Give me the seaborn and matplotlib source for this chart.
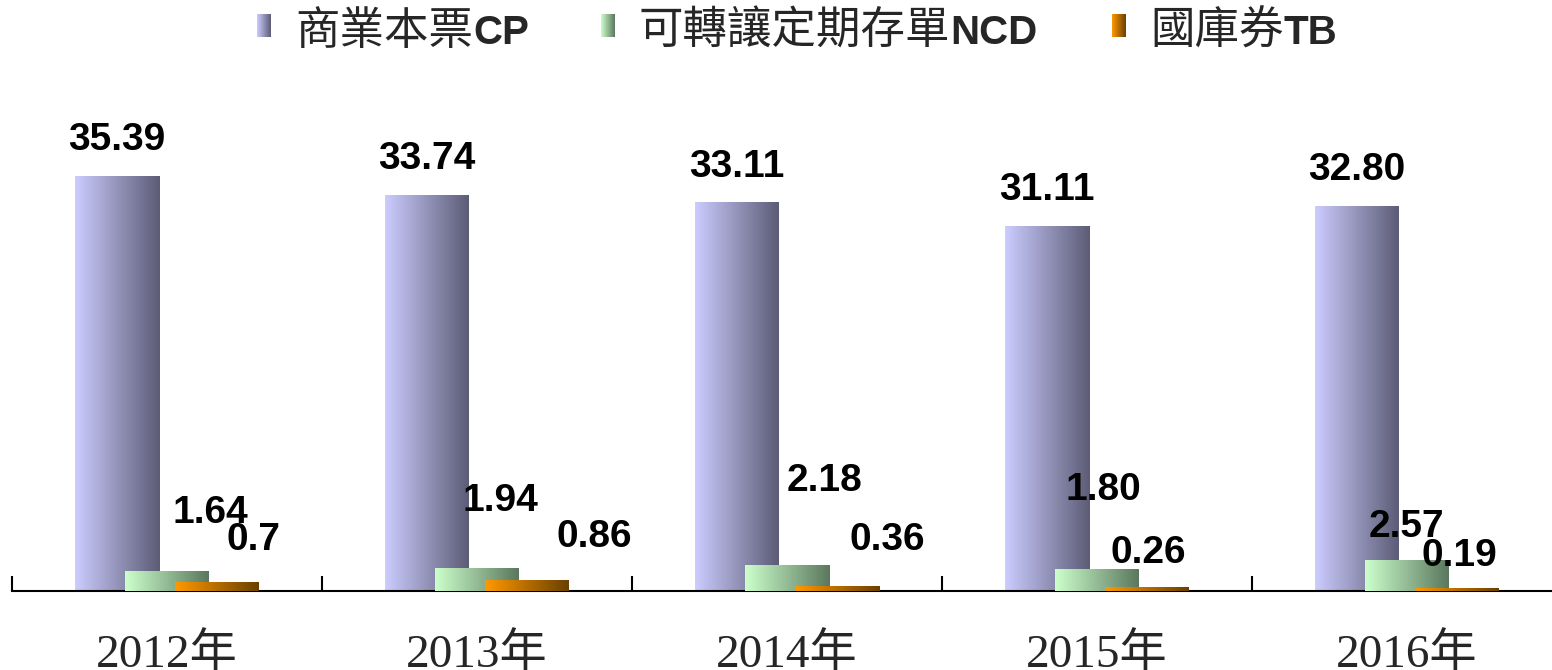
import numpy as np
import pandas as pd
import matplotlib
matplotlib.use('Agg')
import matplotlib.pyplot as plt
import matplotlib.colors as mcolors
import seaborn as sns

# dados
years = ['2012年', '2013年', '2014年', '2015年', '2016年']
series = ['商業本票CP', '可轉讓定期存單NCD', '國庫券TB']
cp = [35.39, 33.74, 33.11, 31.11, 32.80]
ncd = [1.64, 1.94, 2.18, 1.80, 2.57]
tb = [0.70, 0.86, 0.36, 0.26, 0.19]
cp_labels = ['35.39', '33.74', '33.11', '31.11', '32.80']
ncd_labels = ['1.64', '1.94', '2.18', '1.80', '2.57']
tb_labels = ['0.7', '0.86', '0.36', '0.26', '0.19']

# estilo
grad_colors = [('#ccccff', '#5c5c76'), ('#ccffcc', '#5b775d'), ('#ff9900', '#6a4000')]
# deslocamento dos rótulos em pixels (dx, dy acima do topo da barra)
cp_off = [(0, 36)] * 5
ncd_off = [(43, 59), (23, 67), (38, 84), (6, 80), (-1, 34)]
tb_off = [(36, 43), (67, 44), (50, 47), (1, 35), (2, 33)]

sns.set_style('white')
plt.rcParams['font.family'] = ['Liberation Sans', 'Noto Sans CJK TC']

df = pd.DataFrame({
    'ano': years * 3,
    'serie': np.repeat(series, len(years)),
    'valor': cp + ncd + tb,
})

W, H = 1552, 670
fig = plt.figure(figsize=(W / 100, H / 100), dpi=100)
ax = fig.add_axes([12 / W, 79 / H, 1550 / W, 469 / H])

sns.barplot(data=df, x='ano', y='valor', hue='serie', order=years, hue_order=series,
            dodge=True, width=0.484, palette=[c[0] for c in grad_colors],
            saturation=1, legend=False, ax=ax)

bar_w = 84 / 310
px2pt = 0.72


def gradient(c0, c1):
    a = np.array(mcolors.to_rgb(c0))
    b = np.array(mcolors.to_rgb(c1))
    t = np.linspace(0, 1, 256)[:, None]
    return (a + (b - a) * t)[None, :, :]


all_labels = [cp_labels, ncd_labels, tb_labels]
all_offs = [cp_off, ncd_off, tb_off]
for k, cont in enumerate(ax.containers):
    img = gradient(*grad_colors[k])
    for i, bar in enumerate(cont):
        cx = bar.get_x() + bar.get_width() / 2
        h = bar.get_height()
        bar.set_x(cx - bar_w / 2)
        bar.set_width(bar_w)
        bar.set_facecolor('none')
        bar.set_edgecolor('none')
        ax.imshow(img, extent=[cx - bar_w / 2, cx + bar_w / 2, 0, h],
                  aspect='auto', zorder=2 + k, interpolation='bilinear')
        dx, dy = all_offs[k][i]
        ax.annotate(all_labels[k][i], xy=(cx, h), xytext=(dx * px2pt, dy * px2pt),
                    textcoords='offset points', ha='center', va='center',
                    fontsize=28, fontweight='bold', family='Liberation Sans',
                    color='black', zorder=10)

ax.set_xlim(-0.5, 4.5)
ax.set_ylim(0, 40)
ax.set_yticks([])
ax.set_xlabel('')
ax.set_ylabel('')
for s in ['left', 'right', 'top']:
    ax.spines[s].set_visible(False)
ax.spines['bottom'].set_color('black')
ax.spines['bottom'].set_linewidth(1.5)

ax.set_xticks(range(len(years)))
ax.set_xticklabels(years, fontsize=34, family=['Liberation Serif', 'Noto Sans CJK TC'])
ax.set_xticks(np.arange(-0.5, 5, 1), minor=True)
ax.tick_params(axis='x', which='both', bottom=True)
ax.tick_params(axis='x', which='major', length=0, pad=30)
ax.tick_params(axis='x', which='minor', direction='in', length=15 * px2pt,
               width=1.5, color='black')

# legenda manual
renderer = fig.canvas.get_renderer()
leg_x = [257, 601, 1112]
for k, name in enumerate(series):
    x0 = leg_x[k]
    lax = fig.add_axes([x0 / W, 1 - 37 / H, 14 / W, 23 / H])
    lax.imshow(gradient(*grad_colors[k]), aspect='auto', interpolation='bilinear')
    lax.axis('off')
    cjk = name.rstrip('ABCDEFGHIJKLMNOPQRSTUVWXYZ')
    latin = name[len(cjk):]
    t = fig.text((x0 + 38) / W, 1 - 44 / H, cjk, fontsize=32,
                 family='Noto Sans CJK TC', va='baseline', ha='left')
    bb = t.get_window_extent(renderer)
    fig.text(bb.x1 / W, 1 - 44 / H, latin, fontsize=29, fontweight='bold',
             family='Liberation Sans', va='baseline', ha='left')

fig.savefig('out.png', dpi=100)
